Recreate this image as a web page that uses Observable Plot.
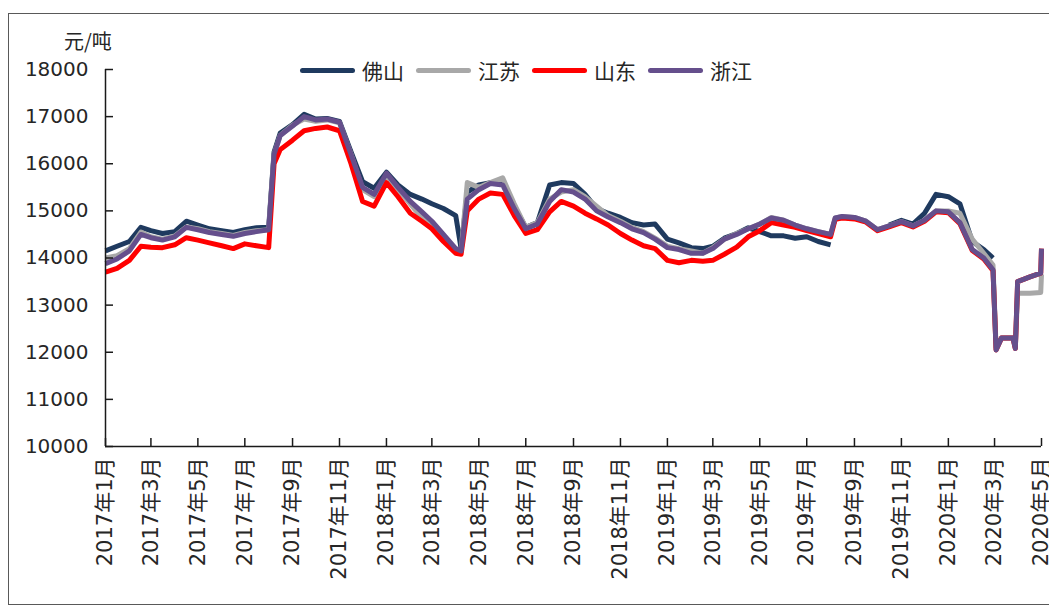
<!DOCTYPE html>
<html>
<head>
<meta charset="utf-8">
<script src="https://cdn.jsdelivr.net/npm/d3@7"></script>
<script src="https://cdn.jsdelivr.net/npm/@observablehq/plot@0.6"></script>
<style>
  html, body { margin: 0; padding: 0; background: #fff; overflow: hidden; }
  #wrap { position: relative; width: 1049px; height: 608px; font-family: "DejaVu Sans", "Noto Sans CJK SC", sans-serif; color: #262626; }
  #frame { position: absolute; left: 8px; top: 13px; width: 1100px; height: 592px; border: 1.5px solid #595959; box-sizing: border-box; }
  #unit { position: absolute; left: 64px; top: 26px; font-size: 20px; font-family: "Noto Sans CJK SC", sans-serif; }
  #legend { position: absolute; left: 300px; top: 55px; display: flex; align-items: center; font-family: "Noto Sans CJK SC", sans-serif; font-size: 21px; }
  .item { display: flex; align-items: center; margin-right: 12px; }
  .sw { width: 55px; height: 5px; border-radius: 3px; margin-right: 7px; }
  #chart { position: absolute; left: 0; top: 0; }
</style>
</head>
<body>
<div id="wrap">
  <div id="frame"></div>
  <div id="chart"></div>
  <div id="unit">元/吨</div>
  <div id="legend"></div>
</div>
<script>
const dates = [
  "2017-01-01","2017-01-16","2017-02-01","2017-02-16","2017-03-01","2017-03-16","2017-04-01","2017-04-16",
  "2017-05-01","2017-05-16","2017-06-01","2017-06-16","2017-07-01","2017-07-16","2017-08-01","2017-08-08",
  "2017-08-16","2017-09-01","2017-09-16","2017-10-01","2017-10-16","2017-11-01","2017-11-16","2017-12-01",
  "2017-12-16","2018-01-01","2018-01-16","2018-02-01","2018-02-16","2018-03-01","2018-03-16","2018-04-01",
  "2018-04-08","2018-04-16","2018-05-01","2018-05-16","2018-06-01","2018-06-16","2018-07-01","2018-07-16",
  "2018-08-01","2018-08-16","2018-09-01","2018-09-16","2018-10-01","2018-10-16","2018-11-01","2018-11-16",
  "2018-12-01","2018-12-16","2019-01-01","2019-01-16","2019-02-01","2019-02-16","2019-03-01","2019-03-16",
  "2019-04-01","2019-04-16","2019-05-01","2019-05-16","2019-06-01","2019-06-16","2019-07-01","2019-07-16",
  "2019-08-01","2019-08-07","2019-08-16","2019-09-01","2019-09-16","2019-10-01","2019-10-16","2019-11-01",
  "2019-11-16","2019-12-01","2019-12-16","2020-01-01","2020-01-16","2020-02-01","2020-02-16","2020-02-28",
  "2020-03-03","2020-03-10","2020-03-25","2020-03-28","2020-03-31","2020-04-16","2020-04-30","2020-05-01"
];

const foshan = [
  14150,14250,14350,14650,14580,14520,14560,14780,
  14700,14620,14580,14540,14600,14640,14650,16250,
  16650,16830,17050,16950,16960,16900,16250,15620,
  15480,15820,15550,15350,15250,15150,15050,14900,
  14200,15400,15550,15600,15600,15100,14650,14750,
  15550,15600,15580,15350,15050,14950,14860,14750,
  14700,14720,14400,14320,14220,14200,14250,14420,
  14520,14640,14560,14470,14470,14420,14450,14350,
  14280,null,null,null,null,null,14700,14800,
  14720,14950,15350,15300,15150,14350,14180,14000,
  null,null,null,null,null,null,null,null
];

const jiangsu = [
  14000,14050,14200,14550,14450,14400,14470,14660,
  14620,14560,14520,14480,14540,14580,14600,16200,
  16600,16820,16950,16900,16930,16870,16200,15450,
  15300,15750,15450,15150,14850,14700,14450,14150,
  14150,15600,15500,15600,15700,15150,14650,14750,
  15250,15400,15450,15300,15100,14900,14780,14650,
  14560,14420,14250,14200,14150,14100,14220,14400,
  14520,14620,14720,14860,14800,14700,14620,14560,
  14500,14850,14880,14860,14780,14600,14680,14770,
  14680,14800,15000,15000,14950,14400,14100,13850,
  12100,12300,12300,12100,13250,13250,13270,13650
];

const shandong = [
  13700,13780,13950,14250,14230,14220,14280,14430,
  14380,14320,14260,14200,14300,14260,14220,16000,
  16300,16500,16700,16750,16780,16700,16000,15200,
  15100,15600,15300,14950,14780,14620,14350,14100,
  14080,15000,15250,15380,15350,14900,14520,14600,
  14980,15200,15100,14950,14830,14700,14520,14380,
  14260,14200,13950,13900,13950,13930,13950,14080,
  14230,14450,14580,14750,14700,14650,14580,14520,
  14450,14820,14850,14830,14760,14580,14660,14750,
  14660,14780,14980,14960,14730,14160,13980,13730,
  12050,12300,12300,12080,13500,13600,13680,14200
];

const zhejiang = [
  13880,13980,14150,14500,14430,14380,14450,14650,
  14600,14540,14500,14460,14520,14560,14600,16200,
  16600,16800,17000,16930,16950,16880,16200,15500,
  15350,15800,15500,15200,14980,14780,14500,14200,
  14150,15250,15450,15580,15550,15050,14620,14720,
  15200,15450,15400,15250,15000,14870,14750,14620,
  14540,14400,14220,14180,14100,14100,14200,14400,
  14500,14620,14720,14850,14800,14700,14620,14560,
  14500,14850,14880,14860,14780,14600,14680,14770,
  14680,14800,15000,14980,14750,14180,14000,13750,
  12050,12300,12300,12080,13500,13600,13680,14200
];

const seriesNames = ["佛山", "江苏", "山东", "浙江"];
const seriesColors = ["#1f3a5f", "#a8a8a8", "#ff0000", "#654f8c"];
const yTicks = [10000, 11000, 12000, 13000, 14000, 15000, 16000, 17000, 18000];
const xTicks = [
  "2017-01-01","2017-03-01","2017-05-01","2017-07-01","2017-09-01","2017-11-01",
  "2018-01-01","2018-03-01","2018-05-01","2018-07-01","2018-09-01","2018-11-01",
  "2019-01-01","2019-03-01","2019-05-01","2019-07-01","2019-09-01","2019-11-01",
  "2020-01-01","2020-03-01","2020-05-01"
];

const valueArrays = [foshan, jiangsu, shandong, zhejiang];
const rows = [];
valueArrays.forEach((arr, s) => {
  dates.forEach((d, i) => {
    rows.push({date: new Date(d), value: arr[i] == null ? NaN : arr[i], series: seriesNames[s]});
  });
});

const xTickDates = xTicks.map(d => new Date(d));
const fmt = d => `${d.getUTCFullYear()}年${d.getUTCMonth() + 1}月`;

const chart = Plot.plot({
  width: 1049,
  height: 608,
  marginLeft: 105,
  marginRight: 8,
  marginTop: 69,
  marginBottom: 162,
  style: {fontFamily: "'DejaVu Sans','Noto Sans CJK SC',sans-serif", color: "#262626", background: "transparent", overflow: "visible"},
  x: {type: "utc", domain: [new Date(dates[0]), new Date(dates[dates.length - 1])]},
  y: {domain: [10000, 18000]},
  color: {domain: seriesNames, range: seriesColors},
  marks: [
    Plot.line(rows, {x: "date", y: "value", z: "series", stroke: "series", strokeWidth: 5, strokeLinejoin: "round", strokeLinecap: "butt"}),
    Plot.ruleX([new Date(dates[0])], {stroke: "#1a1a1a", strokeWidth: 1.5}),
    Plot.ruleY([10000], {stroke: "#1a1a1a", strokeWidth: 1.5}),
    Plot.axisY({ticks: yTicks, tickSize: 8, dx: 8, tickFormat: () => "", label: null, stroke: "#1a1a1a", strokeWidth: 1.5}),
    Plot.axisY({ticks: yTicks, tickSize: 0, tickPadding: 17, tickFormat: d => String(d), label: null, fontSize: 20, fill: "#262626"}),
    Plot.axisX({ticks: xTickDates, tickSize: 8, dy: -8, tickFormat: () => "", label: null, stroke: "#1a1a1a", strokeWidth: 1.5}),
    Plot.axisX({ticks: xTickDates, tickSize: 0, tickPadding: 11, tickRotate: -90, tickFormat: fmt, label: null, fontSize: 21, fill: "#262626"})
  ]
});
document.getElementById("chart").appendChild(chart);

const legend = document.getElementById("legend");
seriesNames.forEach((name, i) => {
  const item = document.createElement("div");
  item.className = "item";
  const sw = document.createElement("div");
  sw.className = "sw";
  sw.style.background = seriesColors[i];
  const t = document.createElement("span");
  t.textContent = name;
  item.appendChild(sw);
  item.appendChild(t);
  legend.appendChild(item);
});
</script>
</body>
</html>
